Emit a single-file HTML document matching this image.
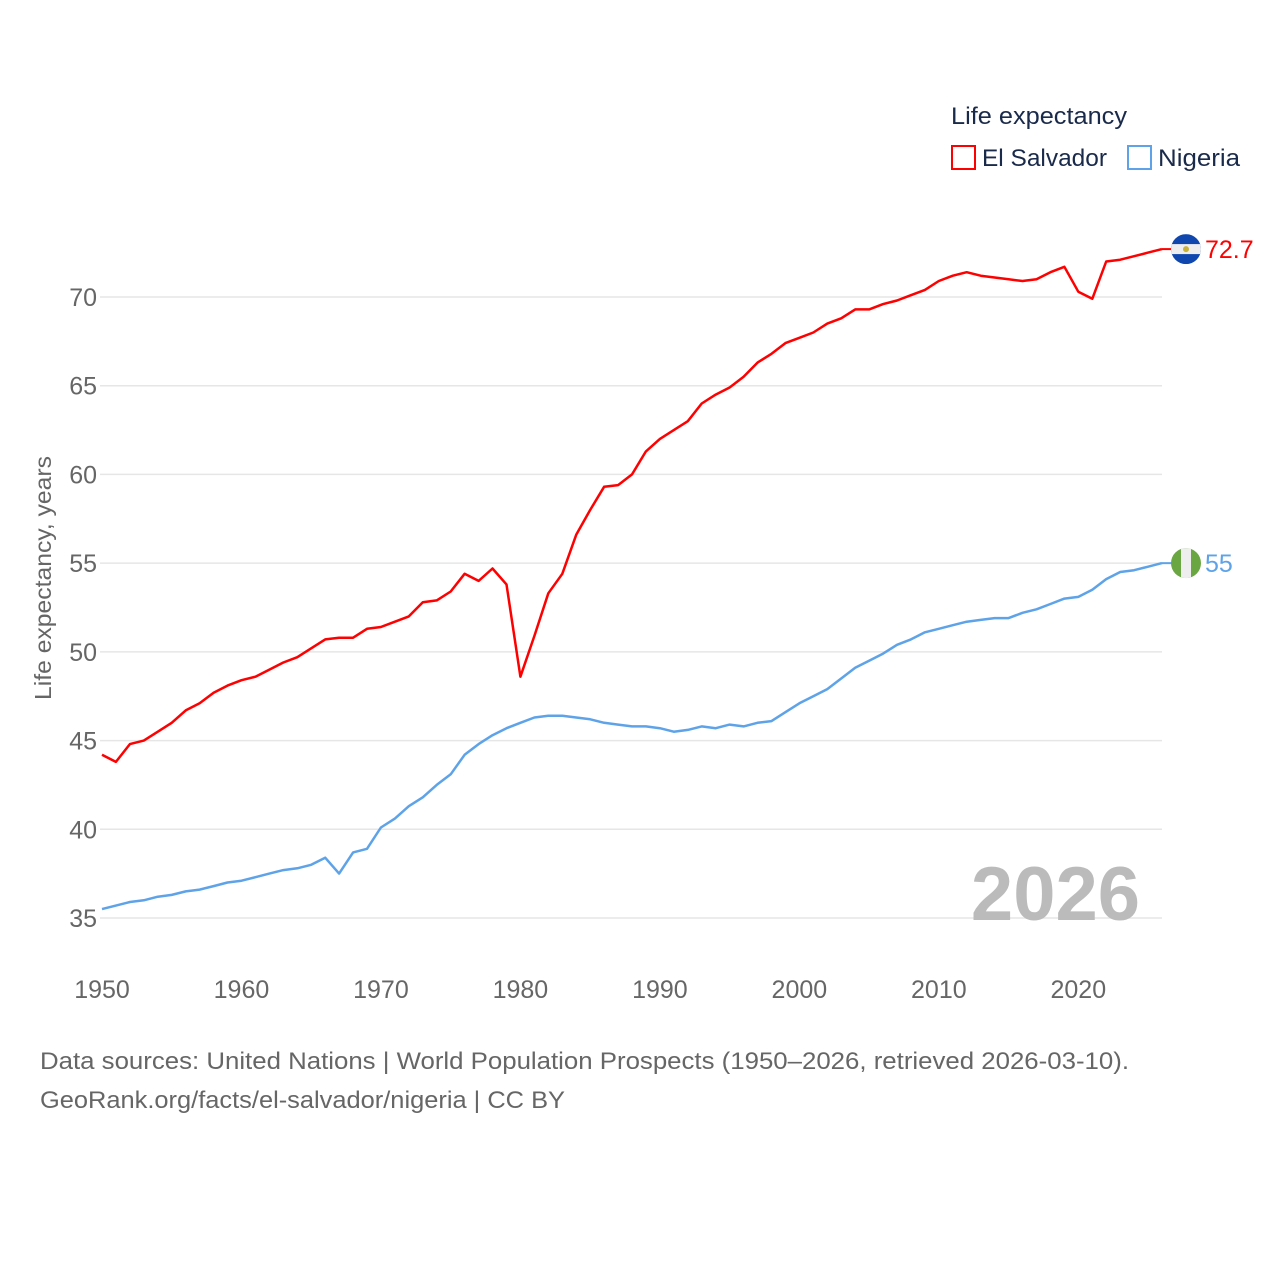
<!DOCTYPE html>
<html><head><meta charset="utf-8"><style>
body{margin:0;background:#fff;}
svg{display:block;font-family:"Liberation Sans",sans-serif;}
</style></head><body>
<svg id="chart" width="1280" height="1280" viewBox="0 0 1280 1280">
<g id="grid"></g>
<g id="yticks"></g>
<g id="xticks"></g>
<text x="51" y="578" transform="rotate(-90 51 578)" text-anchor="middle" font-size="23" fill="#666" textLength="244" lengthAdjust="spacingAndGlyphs">Life expectancy, years</text>
<text x="1140" y="920" text-anchor="end" font-size="76" font-weight="bold" fill="#bbb">2026</text>
<g id="series"></g>
<g>
<text x="951" y="124" font-size="24" fill="#1a2a4a" textLength="176" lengthAdjust="spacingAndGlyphs">Life expectancy</text>
<g>
<rect x="952" y="146" width="23" height="23" fill="none" stroke="#f00" stroke-width="2"/>
<text x="982" y="166" font-size="24" fill="#1a2a4a" textLength="125" lengthAdjust="spacingAndGlyphs">El Salvador</text></g>
<g>
<rect x="1128" y="146" width="23" height="23" fill="none" stroke="#5ea3e8" stroke-width="2"/>
<text x="1158" y="166" font-size="24" fill="#1a2a4a" textLength="82" lengthAdjust="spacingAndGlyphs">Nigeria</text></g>
</g>
<text x="40" y="1069" font-size="24" fill="#666" textLength="1089" lengthAdjust="spacingAndGlyphs">Data sources: United Nations | World Population Prospects (1950–2026, retrieved 2026-03-10).</text>
<text x="40" y="1108" font-size="24" fill="#666" textLength="525" lengthAdjust="spacingAndGlyphs">GeoRank.org/facts/el-salvador/nigeria | CC BY</text>
</svg>
<script>
const years = [];
for (let y = 1950; y <= 2026; y++) years.push(y);
const elSalvador = [44.2,43.8,44.8,45.0,45.5,46.0,46.7,47.1,47.7,48.1,48.4,48.6,49.0,49.4,49.7,50.2,50.7,50.8,50.8,51.3,51.4,51.7,52.0,52.8,52.9,53.4,54.4,54.0,54.7,53.8,48.6,50.9,53.3,54.4,56.6,58.0,59.3,59.4,60.0,61.3,62.0,62.5,63.0,64.0,64.5,64.9,65.5,66.3,66.8,67.4,67.7,68.0,68.5,68.8,69.3,69.3,69.6,69.8,70.1,70.4,70.9,71.2,71.4,71.2,71.1,71.0,70.9,71.0,71.4,71.7,70.3,69.9,72.0,72.1,72.3,72.5,72.7];
const nigeria = [35.5,35.7,35.9,36.0,36.2,36.3,36.5,36.6,36.8,37.0,37.1,37.3,37.5,37.7,37.8,38.0,38.4,37.5,38.7,38.9,40.1,40.6,41.3,41.8,42.5,43.1,44.2,44.8,45.3,45.7,46.0,46.3,46.4,46.4,46.3,46.2,46.0,45.9,45.8,45.8,45.7,45.5,45.6,45.8,45.7,45.9,45.8,46.0,46.1,46.6,47.1,47.5,47.9,48.5,49.1,49.5,49.9,50.4,50.7,51.1,51.3,51.5,51.7,51.8,51.9,51.9,52.2,52.4,52.7,53.0,53.1,53.5,54.1,54.5,54.6,54.8,55.0];
const yTicks = [35,40,45,50,55,60,65,70];
const xTicks = [1950,1960,1970,1980,1990,2000,2010,2020];
const NS="http://www.w3.org/2000/svg";
const X0=102, X1=1162, Y35=918, Y70=297;
const xs = y => X0 + (y-1950)*(X1-X0)/(2026-1950);
const ys = v => Y35 - (v-35)*(Y35-Y70)/35;
function mk(tag, attrs, parent, txt){const e=document.createElementNS(NS,tag);for(const k in attrs)e.setAttribute(k,attrs[k]);if(txt!==undefined)e.textContent=txt;parent.appendChild(e);return e;}
const grid=document.getElementById('grid'), yt=document.getElementById('yticks'), xt=document.getElementById('xticks'), ser=document.getElementById('series');
yTicks.forEach(v=>{
  const l=mk('line',{x1:100,x2:1162,y1:ys(v),y2:ys(v),stroke:'#e6e6e6','stroke-width':1.5},grid);
  
  
  const t=mk('text',{x:97,y:ys(v)+9,'text-anchor':'end','font-size':25,fill:'#666'},yt,String(v));
  
  
});
xTicks.forEach(v=>{
  const t=mk('text',{x:xs(v),y:998,'text-anchor':'middle','font-size':25,fill:'#666'},xt,String(v));
  
  
});
function line(vals,color,name){
  const d=vals.map((v,i)=>(i?'L':'M')+xs(years[i]).toFixed(1)+','+ys(v).toFixed(1)).join('');
  const p=mk('path',{d:d,fill:'none',stroke:color,'stroke-width':2.5,'stroke-linejoin':'round'},ser);
  
  
  const last=vals[vals.length-1], cy=ys(last);
  mk('line',{x1:X1,x2:1172,y1:cy,y2:cy,stroke:color,'stroke-width':2},ser);
  const lab=mk('text',{x:1205,y:cy+9,'font-size':25,fill:color},ser,String(last));
  
  
  return cy;
}
const cyE=line(elSalvador,'#ff0000','el-salvador');
const cyN=line(nigeria,'#5ea3e8','nigeria');
const fe=mk('g',{},ser);


mk('clipPath',{id:'ce'},fe); mk('circle',{cx:1186,cy:cyE,r:15},document.getElementById('ce'));
mk('rect',{x:1171,y:cyE-15,width:30,height:30,fill:'#0f47af','clip-path':'url(#ce)'},fe);
mk('rect',{x:1171,y:cyE-5,width:30,height:10,fill:'#eee','clip-path':'url(#ce)'},fe);
mk('circle',{cx:1186,cy:cyE,r:3,fill:'#c9b23a'},fe);
const fn=mk('g',{},ser);


mk('clipPath',{id:'cn'},fn); mk('circle',{cx:1186,cy:cyN,r:15},document.getElementById('cn'));
mk('rect',{x:1171,y:cyN-15,width:30,height:30,fill:'#6aa642','clip-path':'url(#cn)'},fn);
mk('rect',{x:1181,y:cyN-15,width:10,height:30,fill:'#eee','clip-path':'url(#cn)'},fn);
</script>
</body></html>
